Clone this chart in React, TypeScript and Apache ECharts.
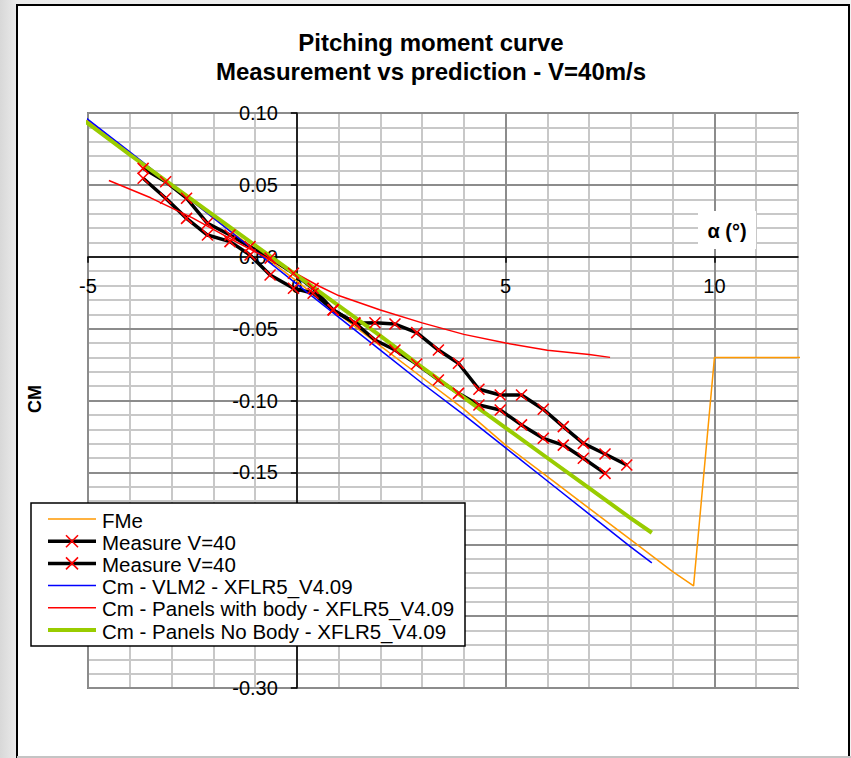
import React, { useEffect, useRef } from 'react';
import * as echarts from 'echarts';

const FONT = '"Liberation Sans", Arial, sans-serif';

const titleLine1 = 'Pitching moment curve';
const titleLine2 = 'Measurement vs prediction - V=40m/s';
const yAxisTitle = 'CM';
const xAxisTitle = 'α (°)';

const xTickValues = [-5, 0, 5, 10];
// y labels that are visible (-0.20 and -0.25 sit behind the legend box)
const yLabelValues = [0.1, 0.05, 0, -0.05, -0.1, -0.15, -0.3];

const seriesNames = [
  'FMe',
  'Measure V=40',
  'Measure V=40',
  'Cm - VLM2 - XFLR5_V4.09',
  'Cm - Panels with body - XFLR5_V4.09',
  'Cm - Panels No Body - XFLR5_V4.09',
];

// FMe
const fmeAlpha = [-5.2, -4, -3, -2, -1, 0, 1, 2, 3, 4, 5, 6, 7, 8, 9, 9.5, 10, 12.2];
const fmeCm = [0.099, 0.072, 0.05, 0.027, 0.005, -0.017, -0.04, -0.062, -0.084, -0.106, -0.131, -0.153, -0.175, -0.197, -0.219, -0.229, -0.07, -0.07];

// Measurement run 1
const meas1Alpha = [-3.68, -3.14, -2.64, -2.14, -1.6, -1.12, -0.64, -0.08, 0.39, 0.87, 1.39, 1.87, 2.35, 2.87, 3.39, 3.87, 4.36, 4.87, 5.38, 5.9, 6.38, 6.86, 7.38];
const meas1Cm = [0.0615, 0.0522, 0.0407, 0.0233, 0.0151, 0.007, -0.001, -0.0115, -0.022, -0.037, -0.046, -0.0579, -0.0649, -0.0746, -0.0857, -0.095, -0.1031, -0.1066, -0.117, -0.1263, -0.131, -0.1402, -0.1507];

// Measurement run 2
const meas2Alpha = [-3.68, -3.14, -2.64, -2.14, -1.6, -1.12, -0.64, -0.08, 0.39, 0.87, 1.39, 1.87, 2.35, 2.87, 3.39, 3.87, 4.36, 4.87, 5.38, 5.9, 6.38, 6.86, 7.38, 7.9];
const meas2Cm = [0.0546, 0.0407, 0.0267, 0.0151, 0.0105, 0.0012, -0.0127, -0.0219, -0.0254, -0.037, -0.0463, -0.0459, -0.0468, -0.0528, -0.0649, -0.0741, -0.0922, -0.0962, -0.0962, -0.1061, -0.1182, -0.1298, -0.1372, -0.1449];

// Cm - VLM2
const vlmAlpha = [-5.2, -4, -3, -2, -1, 0, 1, 2, 3, 4, 5, 6, 7, 8, 8.5];
const vlmCm = [0.1, 0.073, 0.05, 0.027, 0.004, -0.019, -0.042, -0.065, -0.088, -0.11, -0.133, -0.156, -0.179, -0.202, -0.213];

// Cm - Panels with body
const bodyAlpha = [-4.5, -3.5, -2.5, -1.5, -0.5, 0, 0.5, 1, 2, 3, 4, 5, 6, 7, 7.5];
const bodyCm = [0.053, 0.041, 0.027, 0.011, -0.004, -0.012, -0.02, -0.027, -0.037, -0.046, -0.054, -0.06, -0.065, -0.068, -0.07];

// Cm - Panels No Body
const noBodyAlpha = [-5.2, -4, -3, -2, -1, 0, 1, 2, 3, 4, 5, 6, 7, 8, 8.5];
const noBodyCm = [0.097, 0.071, 0.05, 0.029, 0.008, -0.013, -0.034, -0.055, -0.077, -0.098, -0.119, -0.14, -0.161, -0.182, -0.192];

const seriesColors = ['#ff9900', '#000000', '#000000', '#0000ff', '#ff0000', '#99cc00'];
const seriesWidths = [1.5, 3.5, 3.5, 1.5, 1.5, 4];

const CROSS = 'path://M0,0L10,10M0,10L10,0';

// plot geometry
const GRID_LEFT = 88;
const GRID_TOP = 113;
const GRID_W = 710;
const GRID_H = 575;
const X_MIN = -5;
const X_MAX = 12;
const Y_MIN = -0.3;
const Y_MAX = 0.1;

function pairs(xs: number[], ys: number[]) {
  return xs.map((x, i) => [x, ys[i]]);
}

export default function App() {
  const ref = useRef<HTMLDivElement>(null);

  useEffect(() => {
    if (!ref.current) return;
    const chart = echarts.init(ref.current, null, { renderer: 'svg' });

    // offsets that move the axes onto the zero lines
    const yAxisOffset = -((0 - X_MIN) / (X_MAX - X_MIN)) * GRID_W;
    const xAxisOffset = -((0 - Y_MIN) / (Y_MAX - Y_MIN)) * GRID_H;

    const datasets = [
      pairs(fmeAlpha, fmeCm),
      pairs(meas1Alpha, meas1Cm),
      pairs(meas2Alpha, meas2Cm),
      pairs(vlmAlpha, vlmCm),
      pairs(bodyAlpha, bodyCm),
      pairs(noBodyAlpha, noBodyCm),
    ];

    const series = datasets.map((data, i) => {
      const isMeas = i === 1 || i === 2;
      return {
        type: 'line',
        name: seriesNames[i],
        data,
        xAxisIndex: 0,
        yAxisIndex: 0,
        clip: false,
        silent: true,
        emphasis: { disabled: true },
        symbol: isMeas ? CROSS : 'none',
        showSymbol: isMeas,
        symbolSize: 11,
        lineStyle: { color: seriesColors[i], width: seriesWidths[i] },
        itemStyle: isMeas
          ? { color: '#ff0000', borderColor: '#ff0000', borderWidth: 1.6 }
          : { color: seriesColors[i] },
      };
    });

    // custom legend
    const legendChildren: any[] = [];
    legendChildren.push({
      type: 'rect',
      z: 100,
      shape: { x: 31, y: 503, width: 434, height: 143 },
      style: { fill: '#ffffff', stroke: '#000000', lineWidth: 1.5 },
    });
    seriesNames.forEach((name, i) => {
      const y = 519 + i * 22.2;
      legendChildren.push({
        type: 'line',
        z: 101,
        shape: { x1: 48, y1: y, x2: 96, y2: y },
        style: { stroke: seriesColors[i], lineWidth: seriesWidths[i] },
      });
      if (i === 1 || i === 2) {
        legendChildren.push({
          type: 'line',
          z: 102,
          shape: { x1: 66, y1: y - 6, x2: 78, y2: y + 6 },
          style: { stroke: '#ff0000', lineWidth: 1.6 },
        });
        legendChildren.push({
          type: 'line',
          z: 102,
          shape: { x1: 66, y1: y + 6, x2: 78, y2: y - 6 },
          style: { stroke: '#ff0000', lineWidth: 1.6 },
        });
      }
      legendChildren.push({
        type: 'text',
        z: 102,
        x: 102,
        y: y + 1,
        style: {
          text: name,
          fill: '#000000',
          fontSize: 20.5,
          fontFamily: FONT,
          align: 'left',
          verticalAlign: 'middle',
        },
      });
    });

    const option: any = {
      animation: false,
      backgroundColor: 'transparent',
      title: {
        text: titleLine1 + '\n' + titleLine2,
        left: 431,
        top: 28,
        textAlign: 'center',
        padding: 0,
        textStyle: {
          fontSize: 24,
          fontWeight: 'bold',
          fontFamily: FONT,
          color: '#000000',
          lineHeight: 29,
        },
      },
      grid: {
        left: GRID_LEFT,
        top: GRID_TOP,
        width: GRID_W,
        height: GRID_H,
        show: true,
        backgroundColor: '#ffffff',
        borderColor: '#808080',
        borderWidth: 2,
        containLabel: false,
        outerBoundsMode: 'none',
      },
      xAxis: [
        {
          type: 'value',
          min: X_MIN,
          max: X_MAX,
          interval: 5,
          z: 1,
          position: 'bottom',
          offset: xAxisOffset,
          axisLine: { show: true, onZero: false, lineStyle: { color: '#000000', width: 1.5 } },
          axisTick: { show: true, inside: false, length: 6, customValues: xTickValues, lineStyle: { color: '#000000', width: 1.5 } },
          axisLabel: {
            show: true,
            customValues: xTickValues,
            margin: 19,
            fontSize: 20,
            fontFamily: FONT,
            color: '#000000',
            formatter: (v: number) => (v > 11 ? '' : String(v)),
          },
          splitLine: { show: true, lineStyle: { color: '#8c8c8c', width: 2 } },
        },
        {
          type: 'value',
          min: X_MIN,
          max: X_MAX,
          interval: 1,
          z: 0,
          axisLine: { show: false },
          axisTick: { show: false },
          axisLabel: { show: false },
          splitLine: { show: true, lineStyle: { color: '#c8c8c8', width: 2 } },
        },
      ],
      yAxis: [
        {
          type: 'value',
          min: Y_MIN,
          max: Y_MAX,
          interval: 0.05,
          z: 1,
          position: 'left',
          offset: yAxisOffset,
          axisLine: { show: true, onZero: false, lineStyle: { color: '#000000', width: 1.5 } },
          axisTick: { show: true, inside: false, length: 6, lineStyle: { color: '#000000', width: 1.5 } },
          axisLabel: {
            show: true,
            customValues: yLabelValues,
            margin: 19,
            fontSize: 20,
            fontFamily: FONT,
            color: '#000000',
            formatter: (v: number) => (Math.abs(v) < 1e-9 ? '0.00' : v.toFixed(2)),
          },
          splitLine: { show: true, lineStyle: { color: '#8c8c8c', width: 2 } },
        },
        {
          type: 'value',
          min: Y_MIN,
          max: Y_MAX,
          interval: 0.01,
          z: 0,
          axisLine: { show: false },
          axisTick: { show: false },
          axisLabel: { show: false },
          splitLine: { show: true, lineStyle: { color: '#c8c8c8', width: 2 } },
        },
      ],
      series,
      graphic: [
        {
          type: 'rect',
          z: -10,
          silent: true,
          shape: { x: 17, y: 5, width: 832, height: 760 },
          style: { fill: '#ffffff', stroke: '#000000', lineWidth: 2 },
        },
        {
          type: 'line',
          z: -9,
          shape: { x1: 17, y1: 757, x2: 851, y2: 757 },
          style: { stroke: '#c4c4c4', lineWidth: 2 },
        },
        {
          type: 'rect',
          z: 50,
          shape: { x: 698, y: 211, width: 58, height: 38 },
          style: { fill: '#ffffff' },
        },
        {
          type: 'text',
          z: 51,
          x: 727,
          y: 231,
          style: {
            text: xAxisTitle,
            fill: '#000000',
            fontSize: 20,
            fontWeight: 'bold',
            fontFamily: FONT,
            align: 'center',
            verticalAlign: 'middle',
          },
        },
        {
          type: 'text',
          z: 51,
          x: 35,
          y: 399,
          rotation: Math.PI / 2,
          style: {
            text: yAxisTitle,
            fill: '#000000',
            fontSize: 18,
            fontWeight: 'bold',
            fontFamily: FONT,
            align: 'center',
            verticalAlign: 'middle',
          },
        },
        ...legendChildren,
      ],
    };

    chart.setOption(option);
    return () => chart.dispose();
  }, []);

  return (
    <div
      ref={ref}
      style={{
        position: 'fixed',
        left: 0,
        top: 0,
        width: 851,
        height: 758,
        background: 'linear-gradient(to right, #d8d8d8 0px, #ebebeb 17px, #f3f3f3 100%)',
      }}
    />
  );
}
